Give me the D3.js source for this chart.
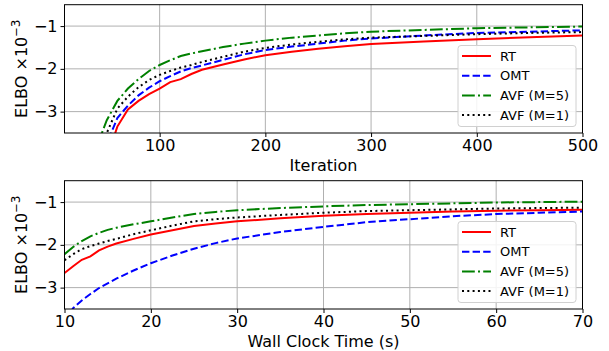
<!DOCTYPE html>
<html>
<head>
<meta charset="utf-8">
<script src="https://cdn.jsdelivr.net/npm/d3@7"></script>
<style>
  html, body { margin: 0; padding: 0; background: #fff; }
  svg { display: block; font-family: "DejaVu Sans", sans-serif; }
</style>
</head>
<body>
<svg id="chart" width="609" height="351"></svg>
<script>
// ---------- Data ----------
const seriesNames = ["RT", "OMT", "AVF (M=5)", "AVF (M=1)"];

// Top panel: ELBO (x10^-3) vs Iteration
const iterations = [40, 50, 60, 70, 80, 90, 100, 110, 120, 130, 140, 160, 180, 200, 225, 250, 275, 300, 350, 400, 450, 500];
const iterRT   = [-5.0, -4.1, -3.35, -2.95, -2.75, -2.59, -2.46, -2.31, -2.24, -2.12, -2.02, -1.90, -1.78, -1.68, -1.60, -1.53, -1.47, -1.42, -1.36, -1.31, -1.26, -1.22];
const iterOMT  = [-4.6, -3.75, -3.15, -2.86, -2.62, -2.44, -2.29, -2.17, -2.06, -1.98, -1.92, -1.79, -1.66, -1.56, -1.48, -1.41, -1.34, -1.29, -1.22, -1.16, -1.13, -1.10];
const iterAVF5 = [-3.85, -3.2, -2.75, -2.46, -2.24, -2.05, -1.91, -1.80, -1.70, -1.64, -1.59, -1.49, -1.41, -1.34, -1.27, -1.22, -1.17, -1.13, -1.09, -1.05, -1.03, -1.01];
const iterAVF1 = [-4.3, -3.5, -2.93, -2.65, -2.43, -2.26, -2.14, -2.05, -1.97, -1.91, -1.84, -1.72, -1.60, -1.51, -1.43, -1.37, -1.31, -1.27, -1.23, -1.19, -1.16, -1.14];

// Bottom panel: ELBO (x10^-3) vs Wall Clock Time (s)
const times = [10, 11, 12, 13, 14, 15, 16, 18, 20, 22.5, 25, 27.5, 30, 35, 40, 45, 50, 55, 60, 65, 70];
const timeRT   = [-2.66, -2.50, -2.35, -2.27, -2.13, -2.04, -1.97, -1.86, -1.76, -1.66, -1.56, -1.50, -1.45, -1.38, -1.32, -1.28, -1.25, -1.22, -1.20, -1.19, -1.18];
const timeOMT  = [-3.8, -3.48, -3.30, -3.15, -3.01, -2.90, -2.79, -2.60, -2.43, -2.25, -2.09, -1.96, -1.85, -1.70, -1.58, -1.47, -1.40, -1.33, -1.28, -1.25, -1.22];
const timeAVF5 = [-2.22, -2.05, -1.91, -1.80, -1.72, -1.65, -1.60, -1.52, -1.45, -1.36, -1.28, -1.23, -1.19, -1.14, -1.10, -1.07, -1.05, -1.03, -1.01, -1.00, -0.99];
const timeAVF1 = [-2.36, -2.22, -2.10, -2.03, -1.97, -1.91, -1.86, -1.75, -1.66, -1.55, -1.45, -1.40, -1.36, -1.30, -1.25, -1.21, -1.19, -1.17, -1.15, -1.14, -1.13];

const iterTicks = [100, 200, 300, 400, 500];
const timeTicks = [10, 20, 30, 40, 50, 60, 70];
const yTicks = [-3, -2, -1];

// ---------- Styles ----------
const styles = [
  { color: "#ff0000", dash: null },
  { color: "#0000ff", dash: "7.4,3.2" },
  { color: "#008000", dash: "12.8,3.2,2,3.2" },
  { color: "#000000", dash: "2,3.3" }
];

const svg = d3.select("#chart");
const left = 64.5, right = 582.5;

function drawPanel(id, top, bottom, xs, ys, xDomain, xTicks, xLabel) {
  const x = d3.scaleLinear().domain(xDomain).range([left, right]);
  const y = d3.scaleLinear().domain([-3.5, -0.5]).range([bottom, top]);
  const g = svg.append("g");

  g.append("clipPath").attr("id", "clip" + id)
    .append("rect").attr("x", left).attr("y", top)
    .attr("width", right - left).attr("height", bottom - top);

  // grid
  g.append("g").selectAll("line").data(xTicks).join("line")
    .attr("x1", d => x(d)).attr("x2", d => x(d))
    .attr("y1", top).attr("y2", bottom)
    .attr("stroke", "#b0b0b0").attr("stroke-width", 1);
  g.append("g").selectAll("line").data(yTicks).join("line")
    .attr("x1", left).attr("x2", right)
    .attr("y1", d => y(d)).attr("y2", d => y(d))
    .attr("stroke", "#b0b0b0").attr("stroke-width", 1);

  // lines
  const line = d3.line().x(d => x(d[0])).y(d => y(d[1]));
  const lg = g.append("g").attr("clip-path", `url(#clip${id})`);
  ys.forEach((vals, i) => {
    const pts = xs.map((v, k) => [v, vals[k]]);
    lg.append("path").datum(pts)
      .attr("d", line)
      .attr("fill", "none")
      .attr("stroke", styles[i].color)
      .attr("stroke-width", 2)
      .attr("stroke-dasharray", styles[i].dash);
  });

  // axes
  const xAxis = d3.axisBottom(x).tickValues(xTicks).tickSize(4).tickPadding(3).tickFormat(d3.format("d"));
  const yAxis = d3.axisLeft(y).tickValues(yTicks).tickSize(4).tickPadding(3).tickFormat(d3.format("d"));
  const gx = g.append("g").attr("transform", `translate(0,${bottom})`).call(xAxis);
  const gy = g.append("g").attr("transform", `translate(${left},0)`).call(yAxis);
  [gx, gy].forEach(a => {
    a.select(".domain").remove();
    a.selectAll("text").attr("font-size", 16).attr("font-family", "DejaVu Sans").attr("fill", "#000");
    a.selectAll("line").attr("stroke", "#000");
  });

  // frame
  g.append("rect").attr("x", left).attr("y", top)
    .attr("width", right - left).attr("height", bottom - top)
    .attr("fill", "none").attr("stroke", "#000").attr("stroke-width", 1);

  // x label
  g.append("text").attr("x", (left + right) / 2).attr("y", bottom + 38)
    .attr("text-anchor", "middle").attr("font-size", 16).text(xLabel);

  // y label
  const yl = g.append("text")
    .attr("transform", `translate(27,${(top + bottom) / 2}) rotate(-90)`)
    .attr("text-anchor", "middle").attr("font-size", 16);
  yl.append("tspan").text("ELBO ×10");
  yl.append("tspan").attr("dy", -7).attr("font-size", 11.5).text("−3");

  // legend
  const lx = 458, ly = bottom - 87.5, lw = 118, lh = 81;
  g.append("rect").attr("x", lx).attr("y", ly).attr("width", lw).attr("height", lh)
    .attr("rx", 3).attr("fill", "#fff").attr("fill-opacity", 0.85)
    .attr("stroke", "#d0d0d0").attr("stroke-width", 1);
  seriesNames.forEach((name, i) => {
    const cy = ly + 10.5 + i * 19.7;
    g.append("line").attr("x1", lx + 4).attr("x2", lx + 33)
      .attr("y1", cy).attr("y2", cy)
      .attr("stroke", styles[i].color).attr("stroke-width", 2)
      .attr("stroke-dasharray", styles[i].dash);
    g.append("text").attr("x", lx + 42).attr("y", cy + 4.7)
      .attr("font-size", 13).text(name);
  });
}

drawPanel("a", 4.7, 133, iterations, [iterRT, iterOMT, iterAVF5, iterAVF1], [10, 500], iterTicks, "Iteration");
drawPanel("b", 180.7, 309, times, [timeRT, timeOMT, timeAVF5, timeAVF1], [10, 70], timeTicks, "Wall Clock Time (s)");
</script>
</body>
</html>
